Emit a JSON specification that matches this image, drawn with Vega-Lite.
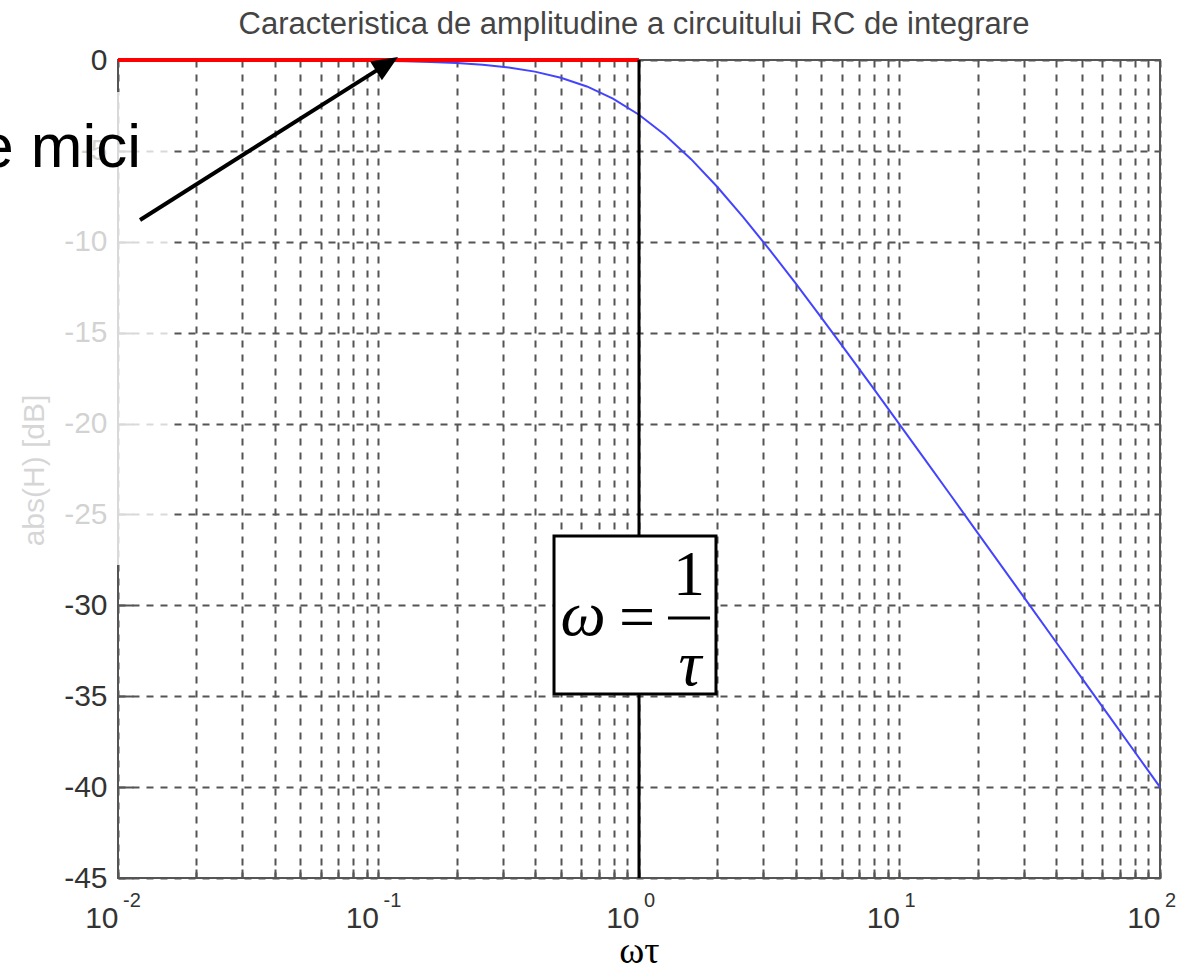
{
  "$schema": "https://vega.github.io/schema/vega-lite/v6.json",
  "width": 1042,
  "height": 818,
  "autosize": {"type": "none"},
  "padding": {"left": 118, "top": 60, "right": 37, "bottom": 88},
  "background": "white",
  "title": {
    "text": "Caracteristica de amplitudine a circuitului RC de integrare",
    "font": "Liberation Sans",
    "fontSize": 31,
    "fontWeight": "normal",
    "color": "#444444",
    "anchor": "middle",
    "baseline": "alphabetic",
    "offset": -20,
    "dx": -5
  },
  "config": {"view": {"stroke": "#555555", "strokeWidth": 2}},
  "encoding": {
    "x": {
      "field": "x",
      "type": "quantitative",
      "scale": {"type": "log", "domain": [0.01, 100], "nice": false},
      "axis": {
        "values": [0.01, 0.02, 0.03, 0.04, 0.05, 0.06, 0.07, 0.08, 0.09, 0.1, 0.2, 0.3, 0.4, 0.5, 0.6, 0.7, 0.8, 0.9, 1, 2, 3, 4, 5, 6, 7, 8, 9, 10, 20, 30, 40, 50, 60, 70, 80, 90, 100],
        "title": "ωτ",
        "titleFont": "Liberation Serif",
        "titleFontSize": 38,
        "titleFontWeight": "normal",
        "titleColor": "#000000",
        "titleBaseline": "alphabetic",
        "titleY": 84,
        "labelExpr": "(datum.value == 0.01 || datum.value == 0.1 || datum.value == 1 || datum.value == 10 || datum.value == 100) ? '10' : ''",
        "labelFont": "Liberation Sans",
        "labelFontSize": 30,
        "labelColor": "#333333",
        "labelAlign": "right",
        "labelDx": 7,
        "labelBaseline": "alphabetic",
        "labelPadding": 58,
        "labelOverlap": false,
        "labelFlush": false,
        "labelBound": false,
        "domain": false,
        "ticks": true,
        "tickSize": -9,
        "tickColor": "#555555",
        "tickWidth": 2,
        "grid": true,
        "gridColor": "#555555",
        "gridDash": [7, 7],
        "gridWidth": 2,
        "gridOpacity": 1
      }
    },
    "y": {
      "field": "y",
      "type": "quantitative",
      "scale": {"domain": [-45, 0], "nice": false, "zero": false},
      "axis": {
        "values": [-45, -40, -35, -30, -25, -20, -15, -10, -5, 0],
        "title": "abs(H) [dB]",
        "titleFont": "Liberation Sans",
        "titleFontSize": 30,
        "titleFontWeight": "normal",
        "titleColor": "#444444",
        "titleBaseline": "alphabetic",
        "titleX": -75,
        "titleY": 410,
        "titleAngle": -90,
        "labelExpr": "'' + datum.value",
        "labelFont": "Liberation Sans",
        "labelFontSize": 30,
        "labelColor": "#333333",
        "labelBaseline": "middle",
        "labelPadding": 26,
        "labelOverlap": false,
        "labelFlush": false,
        "labelBound": false,
        "domain": false,
        "ticks": true,
        "tickSize": -15,
        "tickColor": "#555555",
        "tickWidth": 2,
        "grid": true,
        "gridColor": "#555555",
        "gridDash": [7, 7],
        "gridWidth": 2,
        "gridOpacity": 1
      }
    }
  },
  "layer": [
    {
      "data": {"values": [
        {"x": 0.01, "y": -0.0004},
        {"x": 0.0316, "y": -0.0043},
        {"x": 0.1, "y": -0.0432},
        {"x": 0.1259, "y": -0.0683},
        {"x": 0.1585, "y": -0.1077},
        {"x": 0.1995, "y": -0.1695},
        {"x": 0.2512, "y": -0.2658},
        {"x": 0.3162, "y": -0.4139},
        {"x": 0.3981, "y": -0.6389},
        {"x": 0.5012, "y": -0.9734},
        {"x": 0.631, "y": -1.4554},
        {"x": 0.7943, "y": -2.1245},
        {"x": 1, "y": -3.0103},
        {"x": 1.2589, "y": -4.1246},
        {"x": 1.5849, "y": -5.4555},
        {"x": 1.9953, "y": -6.9733},
        {"x": 2.5119, "y": -8.6391},
        {"x": 3.1623, "y": -10.4139},
        {"x": 3.9811, "y": -12.2658},
        {"x": 5.0119, "y": -14.1695},
        {"x": 6.3096, "y": -16.1077},
        {"x": 7.9433, "y": -18.0683},
        {"x": 10, "y": -20.0432},
        {"x": 12.589, "y": -22.0273},
        {"x": 15.849, "y": -24.0137},
        {"x": 19.953, "y": -26.0108},
        {"x": 25.119, "y": -28.0072},
        {"x": 31.623, "y": -30.0043},
        {"x": 39.811, "y": -32.0027},
        {"x": 50.119, "y": -34.0017},
        {"x": 63.096, "y": -36.0011},
        {"x": 79.433, "y": -38.0007},
        {"x": 100, "y": -40.0004}
      ]},
      "mark": {"type": "line", "color": "#4444ff", "strokeWidth": 2}
    },
    {
      "data": {"values": [{"x": 0.01, "y": 0}, {"x": 1, "y": 0}]},
      "mark": {"type": "line", "color": "#ff0000", "strokeWidth": 4}
    },
    {
      "data": {"values": [{"x": 1, "y": 0, "y2": -45}]},
      "mark": {"type": "rule", "color": "#000000", "strokeWidth": 3},
      "encoding": {"y2": {"field": "y2"}}
    },
    {
      "data": {"values": [{"x": 0.4718, "x2": 1.975, "y": -26.19, "y2": -34.88}]},
      "mark": {"type": "rect", "fill": "#ffffff", "stroke": "#000000", "strokeWidth": 3},
      "encoding": {"x2": {"field": "x2"}, "y2": {"field": "y2"}}
    },
    {
      "data": {"values": [{"x": 1.292, "x2": 1.874, "y": -30.7}]},
      "mark": {"type": "rule", "color": "#000000", "strokeWidth": 3},
      "encoding": {"x2": {"field": "x2"}}
    },
    {
      "data": {"values": [
        {"x": 0.6095, "y": -31.63, "t": "ω"},
        {"x": 1.57, "y": -34.38, "t": "τ"}
      ]},
      "mark": {"type": "text", "font": "Liberation Serif", "fontStyle": "italic", "fontSize": 64, "align": "center", "baseline": "alphabetic", "color": "#000000"},
      "encoding": {"text": {"field": "t"}}
    },
    {
      "data": {"values": [
        {"x": 0.9825, "y": -31.8, "t": "="},
        {"x": 1.555, "y": -29.43, "t": "1"}
      ]},
      "mark": {"type": "text", "font": "Liberation Serif", "fontSize": 64, "align": "center", "baseline": "alphabetic", "color": "#000000"},
      "encoding": {"text": {"field": "t"}}
    },
    {
      "data": {"values": [{"x": 0.0001, "x2": 0.01626, "y": -1.76, "y2": -27.78}]},
      "mark": {"type": "rect", "fill": "#ffffff", "opacity": 0.78},
      "encoding": {"x2": {"field": "x2"}, "y2": {"field": "y2"}}
    },
    {
      "data": {"values": [{"x": 0.01226, "y": -5.886, "t": "e mici"}]},
      "mark": {"type": "text", "font": "Liberation Sans", "fontSize": 62, "align": "right", "baseline": "alphabetic", "color": "#000000"},
      "encoding": {"text": {"field": "t"}}
    },
    {
      "data": {"values": [{"x": 0.01215, "y": -8.8, "x2": 0.1078, "y2": -0.215}]},
      "mark": {"type": "rule", "color": "#000000", "strokeWidth": 4},
      "encoding": {"x2": {"field": "x2"}, "y2": {"field": "y2"}}
    },
    {
      "data": {"values": [{"x": 0.1078, "y": -0.215}]},
      "mark": {"type": "point", "shape": "M0,-1L0.85,1L-0.85,1Z", "size": 676, "angle": 57.7, "filled": true, "fill": "#000000", "color": "#000000", "opacity": 1, "strokeWidth": 0}
    },
    {
      "data": {"values": [
        {"x": 0.01, "y": -46.6, "e": "-2"},
        {"x": 0.1, "y": -46.6, "e": "-1"},
        {"x": 1, "y": -46.6, "e": "0"},
        {"x": 10, "y": -46.6, "e": "1"},
        {"x": 100, "y": -46.6, "e": "2"}
      ]},
      "mark": {"type": "text", "font": "Liberation Sans", "fontSize": 20, "align": "left", "baseline": "alphabetic", "dx": 5, "color": "#333333"},
      "encoding": {"text": {"field": "e"}}
    }
  ]
}
